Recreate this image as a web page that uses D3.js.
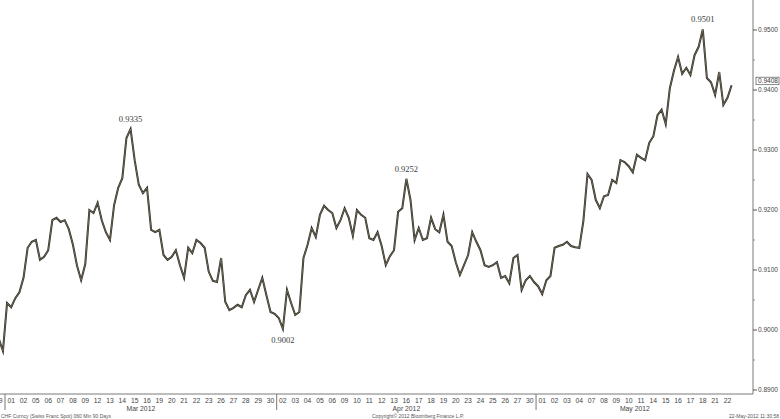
<!DOCTYPE html>
<html><head><meta charset="utf-8">
<script src="https://cdn.jsdelivr.net/npm/d3@7"></script>
<style>
html,body{margin:0;padding:0;background:#fff;}
svg{display:block;}
</style></head>
<body>
<svg id="chart" width="780" height="419"></svg>
<script>
// ---- data ----
const dayLabels = ["29",
 "01","02","05","06","07","08","09","12","13","14","15","16","19","20","21","22","23","26","27","28","29","30",
 "02","03","04","05","06","09","10","11","12","13","16","17","18","19","20","23","24","25","26","27","30",
 "01","02","03","04","07","08","09","10","11","14","15","16","17","18","21","22"];
const monthLabels = ["Mar 2012","Apr 2012","May 2012"];
const monthFirstDay = [1, 23, 44];
const monthLastDay = [22, 43, 59];
const samplesPerDay = 3;
// CHF spot, three readings per trading day (Feb 29 .. May 22 2012)
const closes = [
 0.9010,0.8985,0.8965,
 0.9045,0.9038,0.9053, 0.9063,0.9087,0.9137, 0.9147,0.9150,0.9117, 0.9122,0.9133,0.9183,
 0.9187,0.9180,0.9183, 0.9168,0.9142,0.9107, 0.9083,0.9110,0.9200, 0.9195,0.9212,0.9183,
 0.9163,0.9150,0.9208, 0.9237,0.9253,0.9320, 0.9335,0.9283,0.9242, 0.9228,0.9237,0.9167,
 0.9163,0.9167,0.9125, 0.9117,0.9122,0.9133, 0.9108,0.9087,0.9137, 0.9128,0.9150,0.9145,
 0.9137,0.9097,0.9082, 0.9080,0.9120,0.9047, 0.9033,0.9037,0.9042, 0.9038,0.9058,0.9067,
 0.9047,0.9067,0.9087, 0.9058,0.9030,0.9027,
 0.9020,0.9002,0.9067, 0.9045,0.9025,0.9030, 0.9120,0.9142,0.9170, 0.9155,0.9192,0.9207,
 0.9200,0.9195,0.9170, 0.9183,0.9203,0.9187, 0.9157,0.9200,0.9192, 0.9187,0.9153,0.9150,
 0.9163,0.9140,0.9108, 0.9123,0.9133,0.9197, 0.9203,0.9252,0.9217, 0.9150,0.9170,0.9150,
 0.9153,0.9187,0.9168, 0.9163,0.9192,0.9147, 0.9140,0.9113,0.9092, 0.9108,0.9125,0.9163,
 0.9147,0.9133,0.9108, 0.9105,0.9108,0.9113, 0.9087,0.9090,0.9078, 0.9120,0.9125,0.9067,
 0.9083,0.9090,0.9080,
 0.9073,0.9060,0.9083, 0.9090,0.9137,0.9140, 0.9142,0.9147,0.9140, 0.9138,0.9137,0.9182,
 0.9260,0.9250,0.9217, 0.9203,0.9223,0.9225, 0.9250,0.9245,0.9283, 0.9280,0.9273,0.9263,
 0.9292,0.9287,0.9283, 0.9312,0.9323,0.9358, 0.9367,0.9343,0.9403, 0.9432,0.9455,0.9427,
 0.9437,0.9425,0.9458, 0.9472,0.9501,0.9420, 0.9413,0.9392,0.9430, 0.9375,0.9387,0.9408
];
const yTicks = [0.89,0.90,0.91,0.92,0.93,0.94,0.95];
const yMinorTicks = [0.895,0.905,0.915,0.925,0.935,0.945];
const extremaValues = [0.9335, 0.9002, 0.9252, 0.9501];
const extremaSide = ["above","below","above","above"];
const lastPrice = 0.9408;
const footerLeft = "CHF Curncy (Swiss Franc Spot) 060 Min 90 Days";
const footerMid = "Copyright\u00A9 2012 Bloomberg Finance L.P.";
const footerRight = "22-May-2012 11:30:58";

// ---- layout ----
const W = 780, H = 419;
const axisX = 753, axisY = 394;
const svg = d3.select("#chart");

const x = d3.scaleLinear().domain([0, 60]).range([-7.35, 733.65]);
const y = d3.scaleLinear().domain([0.89, 0.95]).range([390, 30]);
const tOf = j => Math.floor(j / samplesPerDay) + ((j % samplesPerDay) + 0.5) / samplesPerDay;

svg.append("defs").append("clipPath").attr("id","plotclip")
  .append("rect").attr("x",0).attr("y",0).attr("width",axisX).attr("height",axisY);

const plot = svg.append("g").attr("clip-path","url(#plotclip)");

const line = d3.line().x((d,j)=>x(tOf(j))).y(d=>y(d));
plot.append("path")
  .datum(closes)
  .attr("fill","none")
  .attr("stroke","#2b2a24")
  .attr("stroke-width",2.0)
  .attr("stroke-linejoin","miter")
  .attr("stroke-miterlimit",6)
  .attr("d", line);
plot.append("path")
  .datum(closes)
  .attr("fill","none")
  .attr("stroke","#a89f80")
  .attr("stroke-width",0.5)
  .attr("d", line);

// axes lines
svg.append("line").attr("x1",0).attr("x2",axisX).attr("y1",axisY).attr("y2",axisY)
  .attr("stroke","#7a7a7a").attr("stroke-width",1);
svg.append("line").attr("x1",axisX).attr("x2",axisX).attr("y1",0).attr("y2",axisY)
  .attr("stroke","#7a7a7a").attr("stroke-width",1);

// y ticks
const yAxis = svg.append("g");
yAxis.selectAll("line.maj").data(yTicks).join("line")
  .attr("x1",axisX).attr("x2",axisX+4).attr("y1",d=>y(d)).attr("y2",d=>y(d))
  .attr("stroke","#555");
yAxis.selectAll("line.min").data(yMinorTicks).join("line")
  .attr("x1",axisX).attr("x2",axisX+2).attr("y1",d=>y(d)).attr("y2",d=>y(d))
  .attr("stroke","#888");
yAxis.selectAll("text").data(yTicks).join("text")
  .attr("x",axisX+5).attr("y",d=>y(d)).attr("dy","0.35em")
  .attr("font-family","Liberation Sans, Arial, sans-serif").attr("font-size",6.5)
  .attr("fill","#444").text(d=>d3.format(".4f")(d));

// last price box
const lp = svg.append("g");
const lpY = y(lastPrice) - 4;
lp.append("rect").attr("x",axisX+3).attr("y",lpY-4).attr("width",23).attr("height",7.5)
  .attr("fill","#fff").attr("stroke","#555").attr("stroke-width",0.7);
lp.append("text").attr("x",axisX+5).attr("y",lpY).attr("dy","0.35em")
  .attr("font-family","Liberation Sans, Arial, sans-serif").attr("font-size",6.5)
  .attr("fill","#333").text(d3.format(".4f")(lastPrice));

// extrema annotations
extremaValues.forEach((v,i)=>{
  const j = closes.indexOf(v);
  const above = extremaSide[i] === "above";
  svg.append("text")
    .attr("x", x(tOf(j)))
    .attr("y", above ? y(v) - 7 : y(v) + 14)
    .attr("text-anchor","middle")
    .attr("font-family","Liberation Serif, Times New Roman, serif")
    .attr("font-size",8.5).attr("fill","#3a3a3a")
    .text(d3.format(".4f")(v));
});

// x day labels
svg.selectAll("text.day").data(dayLabels).join("text")
  .attr("class","day")
  .attr("x",(d,i)=>x(i+0.5)).attr("y",axisY+9)
  .attr("text-anchor","middle")
  .attr("font-family","Liberation Sans, Arial, sans-serif").attr("font-size",6.8)
  .attr("fill","#444").text(d=>d);

// month separators + labels
svg.selectAll("line.sep").data(monthFirstDay).join("line")
  .attr("x1",d=>x(d)).attr("x2",d=>x(d)).attr("y1",axisY).attr("y2",axisY+16)
  .attr("stroke","#777");
svg.selectAll("text.month").data(monthLabels).join("text")
  .attr("x",(d,i)=>(x(monthFirstDay[i]) + x(monthLastDay[i]+1))/2).attr("y",axisY+17)
  .attr("text-anchor","middle")
  .attr("font-family","Liberation Sans, Arial, sans-serif").attr("font-size",6.8)
  .attr("fill","#444").text(d=>d);

// footer
const ff = "Liberation Sans, Arial, sans-serif";
svg.append("text").attr("x",1).attr("y",H-1.5).attr("font-family",ff).attr("font-size",5)
  .attr("fill","#555").text(footerLeft);
svg.append("text").attr("x",372).attr("y",H-1.5).attr("font-family",ff).attr("font-size",5)
  .attr("fill","#555").text(footerMid);
svg.append("text").attr("x",W-1).attr("y",H-1.5).attr("text-anchor","end").attr("font-family",ff).attr("font-size",5)
  .attr("fill","#555").text(footerRight);
</script>
</body></html>
